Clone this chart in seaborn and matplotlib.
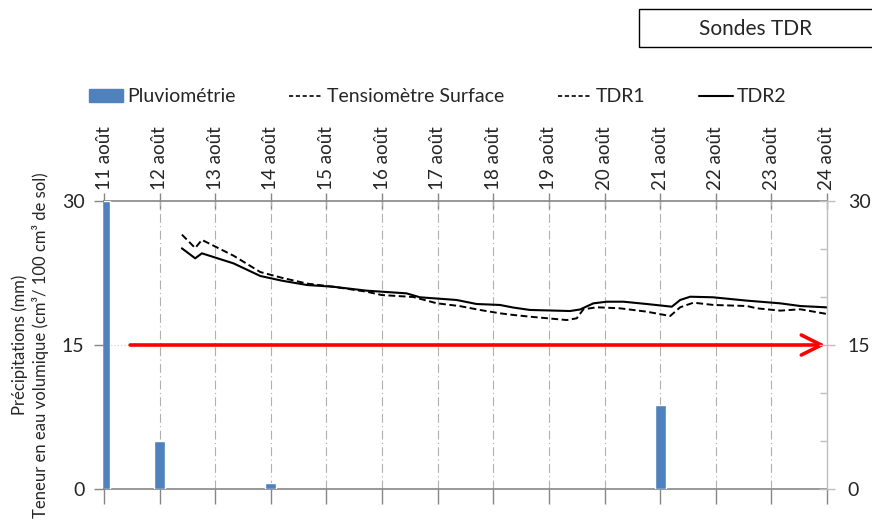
import matplotlib
matplotlib.use("Agg")
import matplotlib.pyplot as plt
from matplotlib.lines import Line2D
from matplotlib.patches import Patch, Rectangle
import seaborn as sns
import pandas as pd

# ---------------- data ----------------
day_ticks = list(range(11, 25))
day_labels = [f"{d} août" for d in day_ticks]

rain_days = [11, 12, 14, 21]
rain_mm = [30.0, 5.0, 0.6, 8.8]

tdr1_days = [12.40, 12.64, 12.76, 13.33, 13.81, 14.20, 14.65, 15.12, 15.72, 16.00,
             16.56, 16.98, 17.40, 17.76, 18.12, 18.36, 18.66, 19.32, 19.50, 19.62,
             19.86, 20.28, 20.76, 21.18, 21.36, 21.60, 21.96, 22.56, 22.74, 23.16,
             23.52, 24.00]
tdr1_vals = [26.5, 25.1, 25.95, 24.3, 22.6, 22.0, 21.4, 21.07, 20.55, 20.2,
             20.0, 19.35, 19.05, 18.65, 18.3, 18.13, 17.95, 17.6, 17.78, 18.72,
             18.93, 18.82, 18.47, 18.02, 18.93, 19.41, 19.17, 19.06, 18.82, 18.58,
             18.72, 18.23]

tdr2_days = [12.40, 12.64, 12.76, 13.33, 13.81, 14.20, 14.65, 15.12, 15.72, 16.44,
             16.68, 17.34, 17.70, 18.12, 18.36, 18.66, 19.38, 19.56, 19.80, 20.04,
             20.34, 20.76, 21.21, 21.36, 21.54, 21.95, 22.56, 23.16, 23.52, 24.00]
tdr2_vals = [25.07, 24.03, 24.55, 23.5, 22.19, 21.7, 21.25, 21.07, 20.66, 20.38,
             19.97, 19.69, 19.27, 19.17, 18.9, 18.65, 18.54, 18.7, 19.34, 19.51,
             19.51, 19.27, 18.99, 19.69, 20.03, 19.97, 19.62, 19.34, 19.06, 18.92]

threshold = 15
arrow_start_day = 11.47

# ---------------- style ----------------
sns.set_style("white")
plt.rcParams["font.family"] = ["Lato", "DejaVu Sans"]

BLUE = "#4F81BD"
fig = plt.figure(figsize=(8.72, 5.23), dpi=100)
ax = fig.add_axes([104 / 872, 34 / 523, 723 / 872, 288 / 523])

rain_df = pd.DataFrame({"day": rain_days, "mm": rain_mm})
sns.barplot(data=rain_df, x="day", y="mm", native_scale=True, width=0.2,
            color=BLUE, saturation=1, ax=ax, zorder=3)

df1 = pd.DataFrame({"day": tdr1_days, "val": tdr1_vals})
df2 = pd.DataFrame({"day": tdr2_days, "val": tdr2_vals})
sns.lineplot(data=df1, x="day", y="val", color="black", lw=1.4,
             linestyle=(0, (3.5, 1.8)), ax=ax, zorder=4)
sns.lineplot(data=df2, x="day", y="val", color="black", lw=1.5, ax=ax, zorder=4)

ax.set_xlim(day_ticks[0], day_ticks[-1])
ax.set_ylim(0, 30)
ax.set_xticks(day_ticks)
ax.set_xticklabels(day_labels, rotation=90, fontsize=13.5)
ax.set_yticks([0, 15, 30])
ax.set_yticklabels(["0", "15", "30"], fontsize=14)
ax.tick_params(axis="x", top=True, bottom=False, labeltop=True, labelbottom=False,
               direction="inout", length=12, width=1, color="#868686", pad=2)
ax.tick_params(axis="y", left=True, direction="out", length=7, width=1,
               color="#868686", pad=7)
ax.set_xlabel("")
ax.set_ylabel("Précipitations (mm)\nTeneur en eau volumique (cm³/ 100 cm³ de sol)",
              fontsize=12, linespacing=1.3, labelpad=9)

# grids
for d in day_ticks[1:-1]:
    ax.axvline(d, color="#B0B0B0", lw=0.8, linestyle=(0, (8, 3, 1, 3)), zorder=1)
ax.axhline(threshold, color="#C8C8C8", lw=0.8, linestyle=(0, (1, 2)), zorder=1)

for s in ["top", "bottom", "left"]:
    ax.spines[s].set_visible(True)
    ax.spines[s].set_color("#868686")
    ax.spines[s].set_linewidth(1.2)
ax.spines["right"].set_visible(False)

# right axis
ax2 = ax.twinx()
ax2.set_ylim(0, 30)
ax2.set_yticks([0, 15, 30])
ax2.set_yticklabels(["0", "15", "30"], fontsize=14)
ax2.set_yticks([5, 10, 20, 25], minor=True)
ax2.tick_params(axis="y", which="major", direction="inout", length=12, width=1,
                color="#BFBFBF", pad=9)
ax2.tick_params(axis="y", which="minor", direction="in", length=5, width=1,
                color="#BFBFBF")
ax2.xaxis.set_visible(True)
ax2.set_xticks(day_ticks)
ax2.tick_params(axis="x", bottom=True, top=False, labelbottom=False, labeltop=False,
                direction="out", length=11, width=1, color="#868686")
for s in ["top", "bottom", "left"]:
    ax2.spines[s].set_visible(False)
ax2.spines["right"].set_visible(True)
ax2.spines["right"].set_color("#BFBFBF")
ax2.spines["right"].set_linewidth(1)

# red arrow at threshold
ax.annotate("", xy=(day_ticks[-1] - 0.03, threshold), xytext=(arrow_start_day, threshold),
            arrowprops=dict(arrowstyle="->", color="red", lw=2.6, mutation_scale=36,
                            shrinkA=0, shrinkB=0), zorder=5)

# legend
handles = [
    Patch(facecolor=BLUE, edgecolor=BLUE),
    Line2D([], [], color="black", lw=1.2, linestyle=(0, (2.5, 1.6))),
    Line2D([], [], color="black", lw=1.2, linestyle=(0, (2.5, 1.6))),
    Line2D([], [], color="black", lw=1.5),
]
labels = ["Pluviométrie", "Tensiomètre Surface", "TDR1", "TDR2"]
fig.legend(handles, labels, loc="center left", bbox_to_anchor=(89 / 872, 1 - 97 / 523),
           ncol=4, frameon=False, fontsize=14, handlelength=1.75, handleheight=0.6,
           handletextpad=0.2, columnspacing=2.75, borderpad=0, borderaxespad=0)

# title box
fig.add_artist(Rectangle((639 / 872, 1 - 47 / 523), 0.3, 38 / 523,
                         transform=fig.transFigure, fill=False, edgecolor="black",
                         lw=1.0))
fig.text(756 / 872, 1 - 29 / 523, "Sondes TDR", ha="center", va="center", fontsize=15)

fig.savefig("out.png", dpi=100)
